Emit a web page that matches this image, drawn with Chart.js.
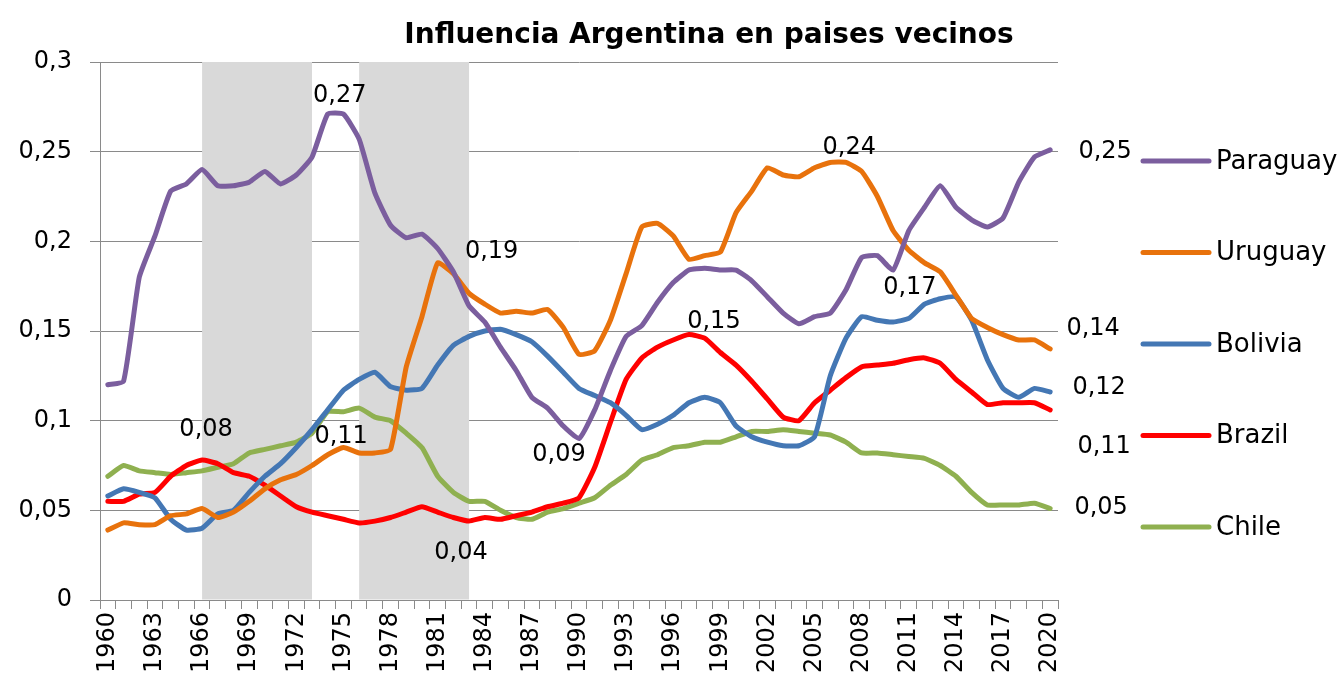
<!DOCTYPE html>
<html>
<head>
<meta charset="utf-8">
<title>Influencia Argentina en paises vecinos</title>
<script src="https://cdn.jsdelivr.net/npm/chart.js@4.4.1/dist/chart.umd.min.js"></script>
<style>
  html, body { margin: 0; padding: 0; background: #fff; }
  #chart { display: block; }
</style>
</head>
<body>
<canvas id="chart" width="1341" height="686"></canvas>
<script>
const years = [
  '1960','1961','1962','1963','1964','1965','1966','1967','1968','1969',
  '1970','1971','1972','1973','1974','1975','1976','1977','1978','1979',
  '1980','1981','1982','1983','1984','1985','1986','1987','1988','1989',
  '1990','1991','1992','1993','1994','1995','1996','1997','1998','1999',
  '2000','2001','2002','2003','2004','2005','2006','2007','2008','2009',
  '2010','2011','2012','2013','2014','2015','2016','2017','2018','2019','2020'
]

// only every third year gets a label on the x axis
const tickYears = ['1960','1963','1966','1969','1972','1975','1978','1981','1984','1987','1990',
  '1993','1996','1999','2002','2005','2008','2011','2014','2017','2020']

const yTicks = [0, 0.05, 0.1, 0.15, 0.2, 0.25, 0.3]

const paraguay = [
  0.120, 0.122, 0.180, 0.203, 0.228, 0.232, 0.240, 0.231, 0.231, 0.233,
  0.239, 0.232, 0.237, 0.247, 0.271, 0.271, 0.257, 0.227, 0.209, 0.202,
  0.204, 0.196, 0.183, 0.164, 0.155, 0.141, 0.128, 0.113, 0.107, 0.097,
  0.090, 0.106, 0.128, 0.147, 0.153, 0.166, 0.177, 0.184, 0.185, 0.184,
  0.184, 0.178, 0.169, 0.160, 0.154, 0.158, 0.160, 0.173, 0.191, 0.192,
  0.184, 0.206, 0.219, 0.231, 0.219, 0.212, 0.208, 0.213, 0.233, 0.247, 0.251
]
const uruguay = [
  0.039, 0.043, 0.042, 0.042, 0.047, 0.048, 0.051, 0.046, 0.049, 0.055,
  0.062, 0.067, 0.070, 0.075, 0.081, 0.085, 0.082, 0.082, 0.084, 0.130,
  0.158, 0.188, 0.182, 0.171, 0.165, 0.160, 0.161, 0.160, 0.162, 0.152,
  0.137, 0.139, 0.156, 0.182, 0.208, 0.210, 0.203, 0.190, 0.192, 0.194,
  0.216, 0.228, 0.241, 0.237, 0.236, 0.241, 0.244, 0.244, 0.239, 0.225,
  0.206, 0.195, 0.188, 0.183, 0.170, 0.157, 0.152, 0.148, 0.145, 0.145, 0.140
]
const bolivia = [
  0.058, 0.062, 0.060, 0.057, 0.045, 0.039, 0.040, 0.048, 0.050, 0.060,
  0.069, 0.076, 0.085, 0.095, 0.106, 0.117, 0.123, 0.127, 0.119, 0.117,
  0.118, 0.131, 0.142, 0.147, 0.150, 0.151, 0.148, 0.144, 0.136, 0.127,
  0.118, 0.114, 0.110, 0.103, 0.095, 0.098, 0.103, 0.110, 0.113, 0.110,
  0.097, 0.091, 0.088, 0.086, 0.086, 0.091, 0.125, 0.146, 0.158, 0.156,
  0.155, 0.157, 0.165, 0.168, 0.169, 0.156, 0.134, 0.118, 0.113, 0.118, 0.116
]
const brazil = [
  0.055, 0.055, 0.059, 0.060, 0.069, 0.075, 0.078, 0.076, 0.071, 0.069,
  0.064, 0.058, 0.052, 0.049, 0.047, 0.045, 0.043, 0.044, 0.046, 0.049,
  0.052, 0.049, 0.046, 0.044, 0.046, 0.045, 0.047, 0.049, 0.052, 0.054,
  0.057, 0.074, 0.099, 0.123, 0.135, 0.141, 0.145, 0.148, 0.146, 0.138,
  0.131, 0.122, 0.112, 0.102, 0.100, 0.110, 0.117, 0.124, 0.130, 0.131,
  0.132, 0.134, 0.135, 0.132, 0.123, 0.116, 0.109, 0.110, 0.110, 0.110, 0.106
]
const chile = [
  0.069, 0.075, 0.072, 0.071, 0.070, 0.071, 0.072, 0.074, 0.076, 0.082,
  0.084, 0.086, 0.088, 0.093, 0.105, 0.105, 0.107, 0.102, 0.100, 0.093,
  0.085, 0.069, 0.060, 0.055, 0.055, 0.050, 0.046, 0.045, 0.049, 0.051,
  0.054, 0.057, 0.064, 0.070, 0.078, 0.081, 0.085, 0.086, 0.088, 0.088,
  0.091, 0.094, 0.094, 0.095, 0.094, 0.093, 0.092, 0.088, 0.082, 0.082,
  0.081, 0.080, 0.079, 0.075, 0.069, 0.060, 0.053, 0.053, 0.053, 0.054, 0.051
]

// shaded periods (from year to year)
const bands = [['1966', '1973'], ['1976', '1983']]

// points that carry a value label: [series, year]
const notes = [
  ['Paraguay', '1974'], ['Brazil', '1966'], ['Chile', '1976'], ['Uruguay', '1981'],
  ['Brazil', '1983'], ['Paraguay', '1990'], ['Brazil', '1997'], ['Uruguay', '2006'],
  ['Bolivia', '2014'], ['Paraguay', '2020'], ['Uruguay', '2020'], ['Bolivia', '2020'],
  ['Brazil', '2020'], ['Chile', '2020']
]

// where each label sits relative to its point (px)
const noteShift = [
  [12, -18], [4, -30], [-18, 29], [54, -11],
  [-8, 32], [-20, 16], [25, -13], [19, -15],
  [-46, -9], [55, 2], [43, -20], [49, -4],
  [54, 37], [51, -1]
]

const fontFamily = "'DejaVu Sans', sans-serif"
const gridColor = '#8a8a8a'

function fmt(v) {
  return String(+v.toFixed(2)).replace('.', ',')
}

function series(label, data, color) {
  return {
    label: label,
    data: data,
    borderColor: color,
    backgroundColor: color,
    borderWidth: 5,
    borderCapStyle: 'round',
    borderJoinStyle: 'round',
    pointRadius: 0,
    tension: 0.15,
    fill: false
  }
}

const decor = {
  id: 'decor',
  beforeDatasetsDraw(chart) {
    const {ctx, chartArea, scales: {x}} = chart
    ctx.save()
    ctx.fillStyle = '#d9d9d9'
    bands.forEach(([a, b]) => {
      const x1 = x.getPixelForValue(years.indexOf(a))
      const x2 = x.getPixelForValue(years.indexOf(b))
      ctx.fillRect(x1, chartArea.top, x2 - x1, chartArea.bottom - chartArea.top - 0.5)
    })
    ctx.restore()
  },
  afterDraw(chart, args, opts) {
    const ctx = chart.ctx
    const sets = chart.data.datasets
    ctx.save()

    // title
    ctx.fillStyle = '#000'
    ctx.font = 'bold 28px ' + fontFamily
    ctx.textAlign = 'center'
    ctx.textBaseline = 'middle'
    ctx.fillText('Influencia Argentina en paises vecinos', opts.titleX, opts.titleY)

    // value labels
    ctx.font = '24px ' + fontFamily
    notes.forEach(([name, year], i) => {
      const di = sets.findIndex(d => d.label === name)
      const idx = years.indexOf(year)
      const pt = chart.getDatasetMeta(di).data[idx]
      ctx.fillText(fmt(sets[di].data[idx]), pt.x + noteShift[i][0], pt.y + noteShift[i][1])
    })

    // legend
    ctx.font = '26px ' + fontFamily
    ctx.textAlign = 'left'
    sets.forEach((d, i) => {
      const y = opts.legendTop + i * opts.legendStep
      ctx.strokeStyle = d.borderColor
      ctx.lineWidth = 5
      ctx.lineCap = 'round'
      ctx.beginPath()
      ctx.moveTo(opts.legendX, y)
      ctx.lineTo(opts.legendX + 66, y)
      ctx.stroke()
      ctx.fillStyle = '#000'
      ctx.fillText(d.label, opts.legendX + 73, y + 1)
    })
    ctx.restore()
  }
}

Chart.defaults.font.family = fontFamily
Chart.defaults.color = '#000'

new Chart(document.getElementById('chart'), {
  type: 'line',
  data: {
    labels: years,
    datasets: [
      series('Paraguay', paraguay, '#7b5e9e'),
      series('Uruguay', uruguay, '#e8720c'),
      series('Bolivia', bolivia, '#4477b4'),
      series('Brazil', brazil, '#ff0000'),
      series('Chile', chile, '#8fb050')
    ]
  },
  options: {
    responsive: false,
    animation: false,
    layout: { padding: { top: 62, right: 283, left: 0, bottom: 0 } },
    plugins: {
      legend: { display: false },
      title: { display: false },
      tooltip: { enabled: false },
      decor: { titleX: 709, titleY: 36, legendX: 1143, legendTop: 161, legendStep: 91.5 }
    },
    scales: {
      x: {
        offset: true,
        grid: { offset: true, drawOnChartArea: false, drawTicks: true, tickLength: 9, color: gridColor },
        border: { display: true, color: gridColor },
        ticks: {
          autoSkip: false,
          maxRotation: 90,
          minRotation: 90,
          padding: 3,
          font: { size: 24 },
          callback: function (v, i) {
            return tickYears.includes(years[i]) ? years[i] : ''
          }
        },
        afterFit: s => { s.height = 86 }
      },
      y: {
        min: 0,
        max: 0.3,
        afterBuildTicks: s => { s.ticks = yTicks.map(v => ({ value: v })) },
        grid: { color: gridColor, tickLength: 10 },
        border: { display: true, color: gridColor },
        ticks: {
          padding: 18,
          font: { size: 24 },
          callback: v => fmt(v)
        },
        afterFit: s => { s.width = 100 }
      }
    }
  },
  plugins: [decor]
})
</script>
</body>
</html>
